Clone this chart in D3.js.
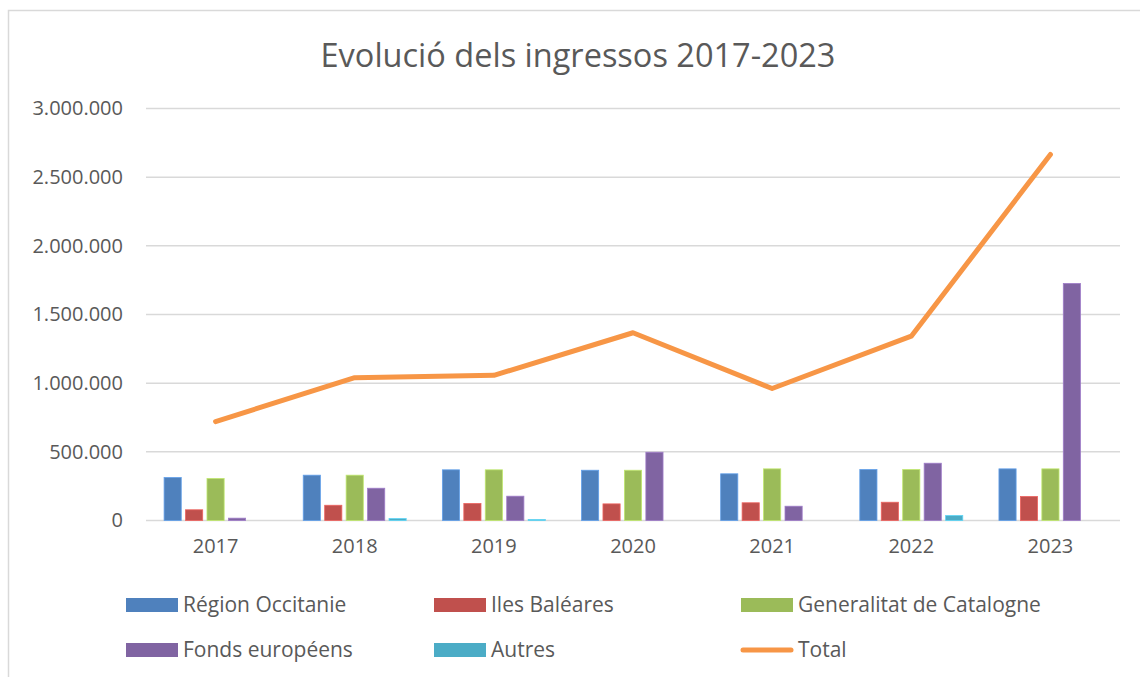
<!DOCTYPE html>
<html>
<head>
<meta charset="utf-8">
<script src="https://cdn.jsdelivr.net/npm/d3@7"></script>
<style>
  html, body { margin: 0; padding: 0; background: #fff; }
  text { font-family: "Open Sans", sans-serif; fill: #595959; }
</style>
</head>
<body>
<div class="container"></div>
<script>
const years = ['2017', '2018', '2019', '2020', '2021', '2022', '2023'];
const seriesNames = ['Région Occitanie', 'Iles Baléares', 'Generalitat de Catalogne', 'Fonds européens', 'Autres'];
const occitanie = [313000, 330000, 369000, 366000, 340000, 371000, 376000];
const baleares = [78000, 111000, 124000, 121000, 129000, 133000, 175000];
const catalogne = [306000, 330000, 369000, 366000, 376000, 371000, 376000];
const fonds = [17000, 235000, 177000, 497000, 104000, 417000, 1726000];
const autres = [0, 14000, 7000, 0, 0, 36000, 0];
const total = [720000, 1040000, 1057000, 1367000, 961000, 1342000, 2665000];
const yTicks = [0, 500000, 1000000, 1500000, 2000000, 2500000, 3000000];

const colors = ['#4F81BD', '#C0504D', '#9BBB59', '#8064A2', '#4BACC6'];
const lineColor = '#F79646';
const seriesValues = [occitanie, baleares, catalogne, fonds, autres];

const w = 1140, h = 677;
const plotLeft = 146, plotRight = 1120, plotTop = 108.5, plotBottom = 520.5;

const svg = d3.select('.container').append('svg')
    .attr('width', w)
    .attr('height', h);

// chart frame (only top and left edges are visible in the picture)
svg.append('path')
    .attr('d', 'M8.5,' + h + ' V10.5 H' + w)
    .attr('fill', 'none')
    .attr('stroke', '#D9D9D9')
    .attr('stroke-width', 1.5);

svg.append('text')
    .attr('x', 578)
    .attr('y', 67)
    .attr('text-anchor', 'middle')
    .style('font-size', '32.5px')
    .text('Evolució dels ingressos 2017-2023');

const x0 = d3.scaleBand()
    .domain(years)
    .range([plotLeft, plotRight])
    .paddingInner(0.26)
    .paddingOuter(0.13);

const x1 = d3.scaleBand()
    .domain(seriesNames)
    .range([0, x0.bandwidth()])
    .paddingInner(0.2);

const y = d3.scaleLinear()
    .domain([0, 3000000])
    .range([plotBottom, plotTop]);

const fmt = d3.formatLocale({decimal: ',', thousands: '.', grouping: [3], currency: ['', '€']}).format(',.0f');

// gridlines
svg.append('g')
    .selectAll('line')
    .data(yTicks)
    .join('line')
    .attr('x1', plotLeft)
    .attr('x2', plotRight)
    .attr('y1', d => y(d))
    .attr('y2', d => y(d))
    .attr('stroke', '#D9D9D9')
    .attr('stroke-width', 1.5);

const yAxis = d3.axisLeft(y).tickValues(yTicks).tickFormat(fmt).tickSize(0).tickPadding(0);
svg.append('g')
    .attr('transform', 'translate(123,0)')
    .call(yAxis)
    .call(g => g.select('.domain').remove())
    .selectAll('text')
    .style('font-size', '20px')
    .style('font-family', '"Open Sans", sans-serif')
    .attr('fill', '#595959');

// bars
const rows = years.map((yr, i) => ({year: yr, vals: seriesNames.map((s, j) => ({name: s, value: seriesValues[j][i], c: colors[j]}))}));

svg.append('g')
    .selectAll('g')
    .data(rows)
    .join('g')
    .attr('transform', d => 'translate(' + x0(d.year) + ',0)')
    .selectAll('rect')
    .data(d => d.vals)
    .join('rect')
    .attr('x', d => x1(d.name))
    .attr('y', d => y(d.value))
    .attr('width', x1.bandwidth())
    .attr('height', d => plotBottom - y(d.value))
    .attr('fill', d => d.c)
    .attr('stroke', d => d3.color(d.c).brighter(0.6))
    .attr('stroke-width', 0.8);

const xAxis = d3.axisBottom(x0).tickSize(0).tickPadding(0);
svg.append('g')
    .attr('transform', 'translate(0,' + plotBottom + ')')
    .call(xAxis)
    .call(g => g.select('.domain').remove())
    .selectAll('text')
    .attr('dy', '1.1em')
    .attr('y', 10)
    .style('font-size', '20px')
    .style('font-family', '"Open Sans", sans-serif')
    .attr('fill', '#595959');

// total line
const line = d3.line()
    .x((d, i) => x0(years[i]) + x0.bandwidth() / 2)
    .y(d => y(d));

svg.append('path')
    .datum(total)
    .attr('d', line)
    .attr('fill', 'none')
    .attr('stroke', lineColor)
    .attr('stroke-width', 5)
    .attr('stroke-linecap', 'round')
    .attr('stroke-linejoin', 'round');

// legend
const legendItems = seriesNames.map((s, j) => ({name: s, c: colors[j], type: 'rect'}));
legendItems.push({name: 'Total', c: lineColor, type: 'line'});
const colX = [126, 434, 741];
const rowY = [605, 650];

const lg = svg.append('g')
    .selectAll('g')
    .data(legendItems)
    .join('g')
    .attr('transform', (d, i) => 'translate(' + colX[i % 3] + ',' + rowY[Math.floor(i / 3)] + ')');

lg.filter(d => d.type === 'rect').append('rect')
    .attr('x', 0)
    .attr('y', -7)
    .attr('width', 52)
    .attr('height', 14)
    .attr('fill', d => d.c);

lg.filter(d => d.type === 'line').append('line')
    .attr('x1', 2)
    .attr('x2', 50)
    .attr('y1', 0)
    .attr('y2', 0)
    .attr('stroke', d => d.c)
    .attr('stroke-width', 5)
    .attr('stroke-linecap', 'round');

lg.append('text')
    .attr('x', 57)
    .attr('y', 0)
    .attr('dy', '0.35em')
    .style('font-size', '21px')
    .text(d => d.name);
</script>
</body>
</html>
